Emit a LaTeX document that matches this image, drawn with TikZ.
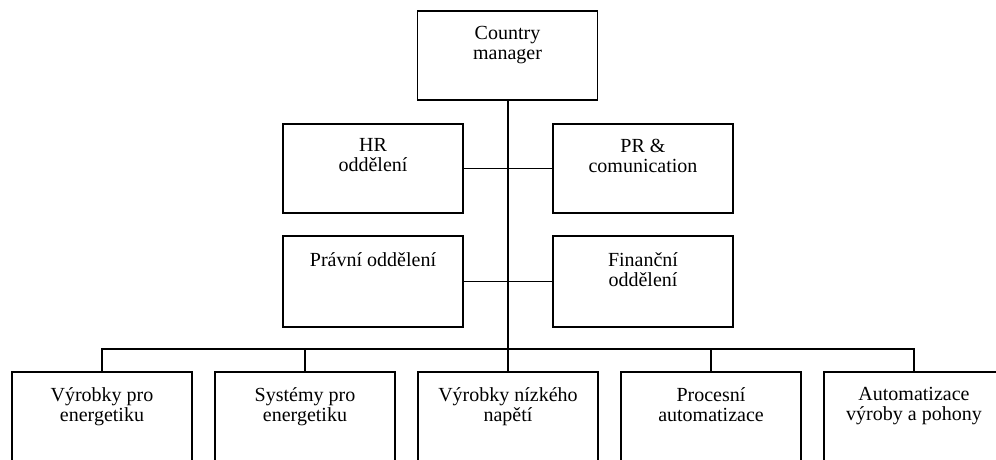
\documentclass[tikz,border=0pt]{standalone}
\usepackage{fontspec}
\setmainfont{Liberation Serif}
\begin{document}
\begin{tikzpicture}[x=1pt,y=-1pt,
  unit/.style={draw, line width=1.8pt, minimum width=180pt, inner sep=0pt, anchor=north},
  caption/.style={anchor=north, inner sep=0pt, align=center,
    font=\fontsize{20}{20}\selectfont},
  link/.style={line width=1.8pt}]
\useasboundingbox (0,0) rectangle (996,459);
\clip (0,0) rectangle (996,459);

% top management
\node[unit, minimum height=89pt] (cm) at (507.5,10) {};
% staff departments
\node[unit, minimum height=89pt] (hr) at (373,123) {};
\node[unit, minimum height=89pt] (pr) at (643,123) {};
\node[unit, minimum height=91pt] (pravni) at (373,235) {};
\node[unit, minimum height=91pt] (fin) at (643,235) {};
% divisions
\node[unit, minimum height=130pt] (d1) at (102,371) {};
\node[unit, minimum height=130pt] (d2) at (305,371) {};
\node[unit, minimum height=130pt] (d3) at (508,371) {};
\node[unit, minimum height=130pt] (d4) at (711,371) {};
\node[unit, minimum height=130pt] (d5) at (914,371) {};

% captions
\node[caption] (cmt) at ([yshift=-16.5pt]cm.north) {Country\\manager};
\node[caption] (hrt) at ([yshift=-15.5pt]hr.north) {HR\\oddělení};
\node[caption] (prt) at ([yshift=-15.5pt]pr.north) {PR \&\\comunication};
\node[caption] (pravnit) at ([yshift=-17pt]pravni.north) {Právní oddělení};
\node[caption] (fint) at ([yshift=-17pt]fin.north) {Finanční\\oddělení};
\node[caption] (d1t) at ([yshift=-16pt]d1.north) {Výrobky pro\\energetiku};
\node[caption] (d2t) at ([yshift=-16pt]d2.north) {Systémy pro\\energetiku};
\node[caption] (d3t) at ([yshift=-16pt]d3.north) {Výrobky nízkého\\napětí};
\node[caption] (d4t) at ([yshift=-16pt]d4.north) {Procesní\\automatizace};
\node[caption] (d5t) at ([yshift=-16pt]d5.north) {Automatizace\\výroby a pohony};

% connectors
\coordinate (hub) at (508,349);
\draw[link] (cm.south -| hub) -- (hub);
\draw[link] (hr.east) -- (pr.west);
\draw[link] (pravni.east) -- (fin.west);
\draw[link] (d1.north) |- (hub) -| (d5.north);
\draw[link] (d2.north) -- (d2.north |- hub);
\draw[link] (d3.north) -- (d3.north |- hub);
\draw[link] (d4.north) -- (d4.north |- hub);
\end{tikzpicture}
\end{document}
